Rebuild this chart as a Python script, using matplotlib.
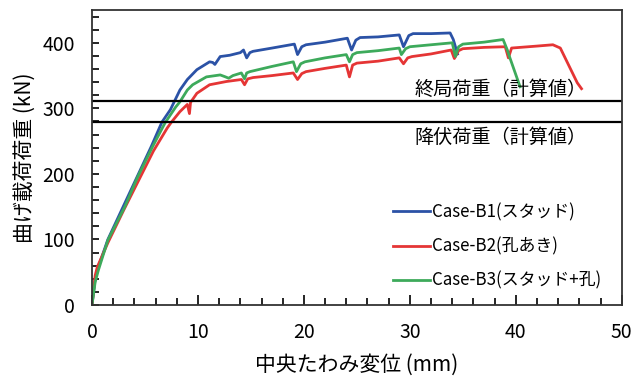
import matplotlib
matplotlib.use("Agg")
import matplotlib.pyplot as plt
from matplotlib.ticker import MultipleLocator

plt.rcParams["font.family"] = ["Noto Sans CJK JP", "DejaVu Sans"]

# deflection (mm) / load (kN)
b1_x = [0, 0.3, 0.6, 1.5, 3.0, 4.3, 5.6, 6.6, 7.4, 8.3, 9.0, 9.9, 10.6, 11.1, 11.4, 11.6,
        12.1, 13.0, 14.0, 14.3, 14.6, 14.9, 15.2, 17, 19.1, 19.4, 19.8, 20.2, 22, 24.1,
        24.5, 24.9, 25.3, 27, 29.0, 29.4, 29.9, 30.3, 32, 33.8, 34.1, 34.5]
b1_y = [0, 40, 58, 100, 152, 197, 242, 279, 298, 328, 344, 359, 366, 371, 370, 367,
        379, 381, 385, 389, 377, 385, 387, 392, 398, 382, 394, 397, 401, 407,
        389, 404, 408, 409, 412, 394, 411, 414, 414, 415, 405, 383]

b2_x = [0, 0.3, 0.5, 1.5, 3.0, 4.4, 5.8, 7.1, 7.5, 8.3, 9.0, 9.2, 9.3, 9.9, 11.1, 12.7,
        14.1, 14.4, 14.7, 15.2, 17, 19.0, 19.4, 19.8, 20.2, 22, 24.0, 24.3, 24.6, 25, 27,
        29.0, 29.4, 29.8, 30.2, 32, 33.9, 34.2, 34.6, 35, 37, 39.0, 39.3, 39.6, 42, 43.5,
        44.2, 45.8, 46.2]
b2_y = [0, 45, 58, 95, 145, 190, 235, 270, 279, 295, 306, 292, 309, 323, 336, 341,
        344, 336, 345, 347, 350, 354, 344, 353, 356, 361, 366, 348, 366, 369, 372,
        377, 368, 377, 379, 383, 389, 376, 388, 391, 393, 394, 377, 392, 395, 397,
        392, 339, 330]

b3_x = [0, 0.3, 0.6, 1.5, 3.1, 4.3, 5.7, 6.9, 7.9, 8.3, 9.0, 9.5, 10.8, 12.1, 12.6, 12.9,
        13.3, 14.1, 14.4, 14.6, 14.9, 17, 19.0, 19.3, 19.7, 20.1, 22, 24.0, 24.3, 24.6, 25.0,
        27, 29.0, 29.2, 29.6, 30.0, 32, 34.0, 34.3, 34.6, 35, 37, 38.8, 39.2, 39.4, 40.4]
b3_y = [0, 35, 53, 99, 150, 195, 241, 278, 302, 310, 328, 336, 348, 351, 348, 346,
        350, 354, 345, 354, 356, 364, 371, 356, 368, 371, 377, 382, 371, 382, 385,
        388, 392, 382, 391, 394, 397, 400, 379, 394, 398, 401, 405, 389, 379, 333]

labels = ["Case-B1(スタッド)", "Case-B2(孔あき)", "Case-B3(スタッド+孔)"]
colors = ["#2B52A6", "#E53535", "#3DAA5B"]

ultimate_load = 311
yield_load = 279

fig = plt.figure(figsize=(6.41, 3.78), dpi=100)
ax = fig.add_axes([0.1435, 0.193, 0.8265, 0.7805])

for xs, ys, lab, c in zip([b1_x, b2_x, b3_x], [b1_y, b2_y, b3_y], labels, colors):
    ax.plot(xs, ys, color=c, lw=2.0, label=lab)

ax.axhline(ultimate_load, color="black", lw=1.6)
ax.axhline(yield_load, color="black", lw=1.6)
ax.text(46.7, ultimate_load + 2, "終局荷重（計算値）", ha="right", va="bottom", fontsize=13.8)
ax.text(46.7, yield_load - 7, "降伏荷重（計算値）", ha="right", va="top", fontsize=13.8)

ax.set_xlim(0, 50)
ax.set_ylim(0, 450)
ax.xaxis.set_major_locator(MultipleLocator(10))
ax.xaxis.set_minor_locator(MultipleLocator(2))
ax.yaxis.set_major_locator(MultipleLocator(100))
ax.yaxis.set_minor_locator(MultipleLocator(20))
ax.tick_params(which="both", direction="in", labelsize=14, width=1.2)
ax.tick_params(axis="x", which="major", length=7, pad=12)
ax.tick_params(axis="x", which="minor", length=5)
ax.tick_params(axis="y", which="major", length=5, pad=12)
ax.tick_params(axis="y", which="minor", length=5)
for s in ax.spines.values():
    s.set_linewidth(1.3)
    s.set_color("#333333")

ax.set_xlabel("中央たわみ変位 (mm)", fontsize=15, labelpad=8)
ax.set_ylabel("曲げ載荷荷重 (kN)", fontsize=15, labelpad=5)

ax.legend(loc="lower right", bbox_to_anchor=(0.99, 0.0), frameon=False, fontsize=12.2,
          handlelength=2.2, handletextpad=0.1, labelspacing=0.95)

fig.savefig("out.png", dpi=100)
plt.close(fig)
